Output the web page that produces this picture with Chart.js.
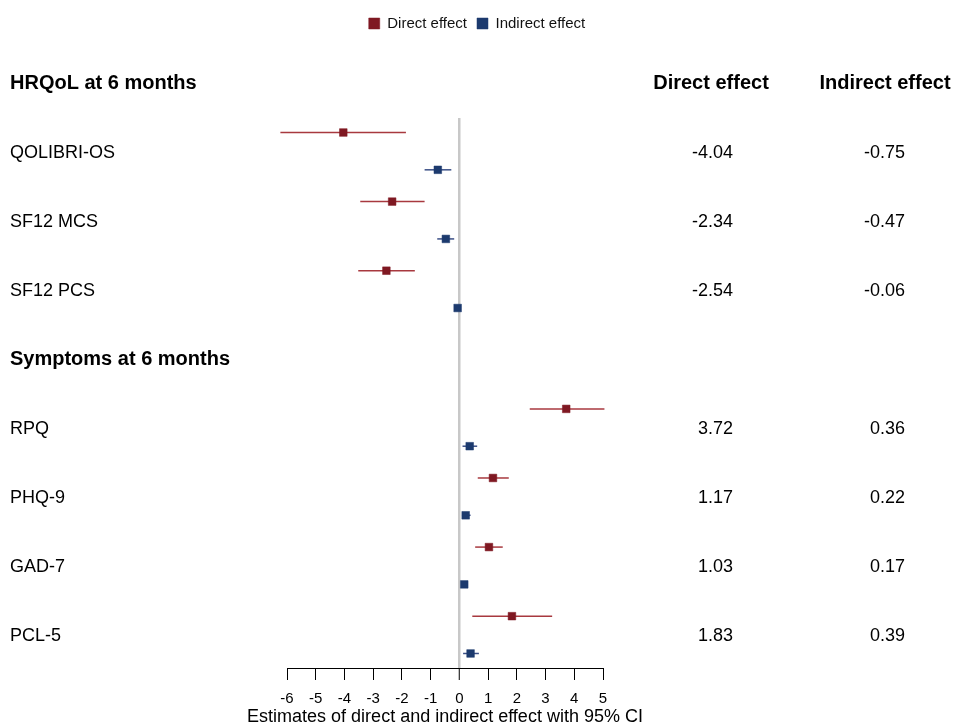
<!DOCTYPE html>
<html>
<head>
<meta charset="utf-8">
<script src="https://cdn.jsdelivr.net/npm/chart.js@4.4.1/dist/chart.umd.min.js"></script>
<style>
  html, body { margin: 0; padding: 0; background: #ffffff; }
  #wrap { width: 954px; height: 725px; position: relative; }
</style>
</head>
<body>
<div id="wrap"><canvas id="c" width="954" height="725"></canvas></div>
<script>
// ---------- data ----------
const groupTitles = ['HRQoL at 6 months', 'Symptoms at 6 months'];
const outcomes = ['QOLIBRI-OS', 'SF12 MCS', 'SF12 PCS', 'RPQ', 'PHQ-9', 'GAD-7', 'PCL-5'];
const outcomeGroup = [0, 0, 0, 1, 1, 1, 1];

const directEst = [-4.04, -2.34, -2.54, 3.72, 1.17, 1.03, 1.83];
const directLo  = [-6.23, -3.45, -3.52, 2.45, 0.64, 0.55, 0.45];
const directHi  = [-1.86, -1.21, -1.55, 5.05, 1.72, 1.51, 3.23];

const indirectEst = [-0.75, -0.47, -0.06, 0.36, 0.22, 0.17, 0.39];
const indirectLo  = [-1.21, -0.77, -0.10, 0.11, 0.09, 0.10, 0.13];
const indirectHi  = [-0.28, -0.18, -0.02, 0.62, 0.39, 0.26, 0.68];

const xTicks = [-6, -5, -4, -3, -2, -1, 0, 1, 2, 3, 4, 5];
const seriesNames = ['Direct effect', 'Indirect effect'];
const xTitle = 'Estimates of direct and indirect effect with 95% CI';

// ---------- layout of rows (derived from group structure) ----------
const groupSlot = [];
const outcomeSlot = [];
let slot = 0;
outcomes.forEach((o, i) => {
  const g = outcomeGroup[i];
  if (groupSlot[g] === undefined) { groupSlot[g] = slot; slot++; }
  outcomeSlot[i] = slot; slot++;
});

const DIRECT_OFF = -0.29, INDIRECT_OFF = 0.25;
const RED = '#7f1822', RED_LINE = '#a8393f';
const BLUE = '#1c3a6e', BLUE_LINE = '#3b4f86';
const FONT = "'Liberation Sans', Arial, Helvetica, sans-serif";

const directPts = directEst.map((v, i) => ({ x: v, y: outcomeSlot[i] + DIRECT_OFF }));
const indirectPts = indirectEst.map((v, i) => ({ x: v, y: outcomeSlot[i] + INDIRECT_OFF }));

const errorBars = {
  id: 'errorBars',
  beforeDatasetsDraw(chart) {
    const { ctx, scales: { x, y } } = chart;
    ctx.save();
    ctx.lineWidth = 1.5;
    const draw = (lo, hi, off, color) => {
      ctx.strokeStyle = color;
      lo.forEach((l, i) => {
        const py = y.getPixelForValue(outcomeSlot[i] + off);
        ctx.beginPath();
        ctx.moveTo(x.getPixelForValue(l), py);
        ctx.lineTo(x.getPixelForValue(hi[i]), py);
        ctx.stroke();
      });
    };
    draw(directLo, directHi, DIRECT_OFF, RED_LINE);
    draw(indirectLo, indirectHi, INDIRECT_OFF, BLUE_LINE);
    ctx.restore();
  }
};

const textCols = {
  id: 'textCols',
  afterDraw(chart) {
    const { ctx, chartArea, scales: { y } } = chart;
    ctx.save();
    ctx.fillStyle = '#000';
    ctx.textBaseline = 'middle';
    // group headers
    ctx.font = 'bold 20px ' + FONT;
    ctx.textAlign = 'left';
    groupTitles.forEach((t, g) => ctx.fillText(t, 10, y.getPixelForValue(groupSlot[g])));
    ctx.textAlign = 'center';
    ctx.fillText(seriesNames[0], 711, y.getPixelForValue(groupSlot[0]));
    ctx.fillText(seriesNames[1], 885, y.getPixelForValue(groupSlot[0]));
    // outcome labels and values
    ctx.font = '18px ' + FONT;
    outcomes.forEach((o, i) => {
      const py = y.getPixelForValue(outcomeSlot[i]);
      ctx.textAlign = 'left';
      ctx.fillText(o, 10, py);
      ctx.textAlign = 'right';
      ctx.fillText(directEst[i].toFixed(2), 733, py);
      ctx.fillText(indirectEst[i].toFixed(2), 905, py);
    });
    // x axis title (wider than the axis itself)
    ctx.textAlign = 'center';
    ctx.fillText(xTitle, (chartArea.left + chartArea.right) / 2, chartArea.bottom + 49);
    ctx.restore();
  }
};

new Chart(document.getElementById('c'), {
  type: 'scatter',
  data: {
    datasets: [
      { label: seriesNames[0], data: directPts, backgroundColor: RED, borderColor: RED,
        borderWidth: 1, pointStyle: 'rect', pointRadius: 5.4, pointBorderWidth: 0.5 },
      { label: seriesNames[1], data: indirectPts, backgroundColor: BLUE, borderColor: BLUE,
        borderWidth: 1, pointStyle: 'rect', pointRadius: 5.4, pointBorderWidth: 0.5 }
    ]
  },
  options: {
    responsive: false,
    animation: false,
    layout: { padding: { top: 6, bottom: 8, left: 0, right: 0 } },
    plugins: {
      tooltip: { enabled: false },
      legend: {
        display: true,
        position: 'top',
        labels: { boxWidth: 11, boxHeight: 11, padding: 10, color: '#111',
                  font: { family: FONT, size: 15 } }
      },
      title: { display: true, text: '', weight: 500, font: { size: 10, lineHeight: 1 },
               padding: { top: 67, bottom: 0 } }
    },
    scales: {
      x: {
        type: 'linear', min: -6, max: 5,
        afterBuildTicks(s) { s.ticks = xTicks.map(v => ({ value: v })); },
        ticks: { color: '#000', font: { family: FONT, size: 15, lineHeight: 1 }, padding: 11, maxRotation: 0 },
        grid: {
          drawOnChartArea: true, drawTicks: true, tickLength: 12,
          color: c => (c.tick && c.tick.value === 0) ? '#c8c8c8' : 'rgba(0,0,0,0)',
          lineWidth: c => (c.tick && c.tick.value === 0) ? 2.5 : 1,
          tickColor: '#000', tickWidth: 1
        },
        border: { display: true, color: '#000', width: 1 },
        title: { display: false }
      },
      y: {
        type: 'linear', reverse: true, min: 0.5, max: 8.46,
        afterFit(s) { s.width = 287; },
        ticks: { display: false }, grid: { display: false }, border: { display: false }
      },
      yr: {
        type: 'linear', position: 'right', min: 0, max: 1,
        afterFit(s) { s.width = 351; },
        ticks: { display: false }, grid: { display: false }, border: { display: false }
      }
    }
  },
  plugins: [errorBars, textCols]
});
</script>
</body>
</html>
